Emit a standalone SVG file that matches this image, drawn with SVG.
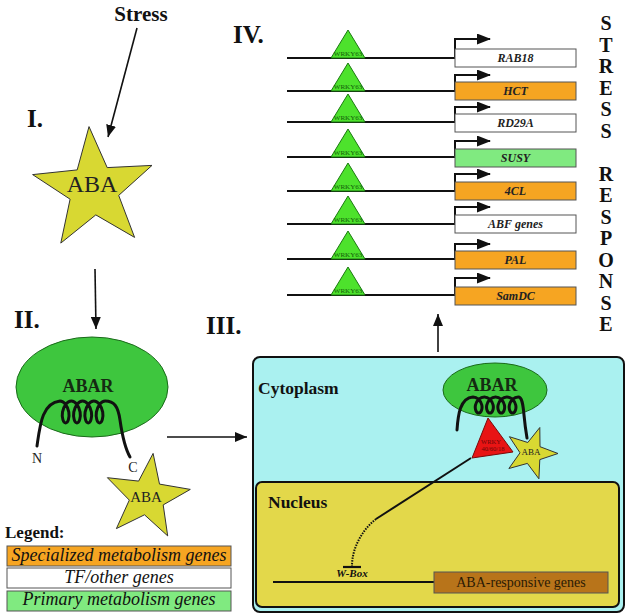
<svg xmlns="http://www.w3.org/2000/svg" width="630" height="616" viewBox="0 0 630 616">
<defs>
<style>
text{font-family:"Liberation Serif","Times New Roman",serif;}
.b{font-weight:bold;}
.num{font-weight:bold;font-size:25px;fill:#111;}
.gene{fill:#fff;stroke:#555;stroke-width:1;}
.spec{fill:#f6a522;}
.prim{fill:#80ea80;}
.gl{font-weight:bold;font-style:italic;font-size:12px;fill:#222;text-anchor:middle;}
.dna{stroke:#111;stroke-width:2;fill:none;}
.tri{fill:#4de22c;stroke:#1a7a10;stroke-width:1;}
.wl{font-size:7px;fill:#125a0a;text-anchor:middle;}
.star{fill:#d8d832;stroke:#333;stroke-width:1;}
.coil{fill:none;stroke:#111;stroke-width:3;stroke-linecap:round;stroke-linejoin:round;}
.abar{fill:#3ec63e;stroke:#1a6a1a;stroke-width:1;}
.sr{font-weight:bold;font-size:20px;fill:#111;text-anchor:middle;}
.leg{font-style:italic;font-size:18px;fill:#111;text-anchor:middle;}
.arr{stroke:#111;stroke-width:1.6;fill:none;}
</style>
<marker id="ah" markerUnits="userSpaceOnUse" markerWidth="12" markerHeight="10" refX="12" refY="5" orient="auto">
<path d="M0,0 L12,5 L0,10 z" fill="#111"/>
</marker>
<marker id="gh" markerUnits="userSpaceOnUse" markerWidth="14" markerHeight="11" refX="13" refY="5.5" orient="auto">
<path d="M0,0 L14,5.5 L0,11 z" fill="#111"/>
</marker>
</defs>
<rect width="630" height="616" fill="#fff"/>

<g id="stress-label"><text x="141" y="21" class="b" font-size="21" text-anchor="middle" fill="#111">Stress</text></g>
<g id="labels">
<text x="27" y="127" class="num" font-size="22">I.</text>
<text x="14" y="328" class="num">II.</text>
<text x="206" y="334" class="num">III.</text>
<text x="233" y="43" class="num">IV.</text>
</g>

<g id="aba-star-1">
<polygon class="star" points="89.0,126.6 107.2,167.6 152.0,165.4 118.7,195.4 134.6,237.4 95.8,214.9 60.8,243.1 70.1,199.2 32.6,174.6 77.2,169.9"/>
<text x="92" y="192" font-size="24" text-anchor="middle" fill="#222">ABA</text>
</g>

<g id="abar-2">
<ellipse class="abar" cx="92" cy="387" rx="76" ry="50"/>
<text x="88" y="392" class="b" font-size="18" text-anchor="middle" fill="#152a12">ABAR</text>
<path class="coil" d="M37,446 C40,425 42,403 60,401 c 4.08,0 7.86,5.24 8.8,11 c 0.94,5.76 -0.95,11 -3.15,11 c -2.2,0 -4.09,-5.24 -3.15,-11 c 0.94,-5.76 4.72,-11 8.8,-11 c 4.08,0 7.86,5.24 8.8,11 c 0.94,5.76 -0.95,11 -3.15,11 c -2.2,0 -4.09,-5.24 -3.15,-11 c 0.94,-5.76 4.72,-11 8.8,-11 c 4.08,0 7.86,5.24 8.8,11 c 0.94,5.76 -0.95,11 -3.15,11 c -2.2,0 -4.09,-5.24 -3.15,-11 c 0.94,-5.76 4.72,-11 8.8,-11 c 4.08,0 7.86,5.24 8.8,11 c 0.94,5.76 -0.95,11 -3.15,11 c -2.2,0 -4.09,-5.24 -3.15,-11 c 0.94,-5.76 4.72,-11 8.8,-11 C114,401 118,406 120,420 S126,450 130,457"/>
<text x="37" y="463" font-size="14" text-anchor="middle" fill="#222">N</text>
<text x="133" y="472" font-size="14" text-anchor="middle" fill="#222">C</text>
</g>

<g id="aba-star-2">
<polygon class="star" points="153.1,453.4 159.5,484.1 190.3,489.4 163.2,504.9 167.7,535.9 144.5,514.8 116.4,528.6 129.3,500.1 107.4,477.7 138.6,481.1"/>
<text x="146" y="502" font-size="15" text-anchor="middle" fill="#222">ABA</text>
</g>

<g id="legend">
<text x="5" y="538" class="b" font-size="17" fill="#111">Legend:</text>
<rect x="7" y="546" width="224" height="20" class="gene spec"/>
<text x="119" y="561" class="leg">Specialized metabolism genes</text>
<rect x="7" y="568" width="224" height="20" class="gene"/>
<text x="119" y="583" class="leg">TF/other genes</text>
<rect x="7" y="591" width="224" height="20" class="gene prim"/>
<text x="119" y="605" class="leg">Primary metabolism genes</text>
</g>

<g id="cell">
<rect id="cytoplasm" x="253" y="357" width="371" height="255" rx="7" fill="#aaf1f0" stroke="#111" stroke-width="2"/>
<text x="258" y="394" class="b" font-size="17.5" fill="#111">Cytoplasm</text>
<rect id="nucleus" x="256" y="482" width="363" height="125" rx="6" fill="#e3d84a" stroke="#111" stroke-width="2"/>
<text x="268" y="508" class="b" font-size="17.5" fill="#111">Nucleus</text>
</g>

<g id="abar-3">
<ellipse class="abar" cx="495" cy="390" rx="52" ry="27"/>
<text x="492" y="391" class="b" font-size="18" text-anchor="middle" fill="#152a12">ABAR</text>
</g>
<g id="aba-star-3">
<polygon class="star" points="539.8,427.5 540.0,446.7 558.0,453.5 539.8,459.6 538.9,478.8 527.4,463.4 508.9,468.5 520.0,452.8 509.4,436.7 527.8,442.5"/>
<text x="531" y="455" font-size="9" text-anchor="middle" fill="#222">ABA</text>
</g>
<g id="abar-3-coil">
<path class="coil" d="M457,430 C458,415 460,398 473,397 c 4.08,0 7.86,3.81 8.8,8 c 0.94,4.19 -0.95,8 -3.15,8 c -2.2,0 -4.09,-3.81 -3.15,-8 c 0.94,-4.19 4.72,-8 8.8,-8 c 4.08,0 7.86,3.81 8.8,8 c 0.94,4.19 -0.95,8 -3.15,8 c -2.2,0 -4.09,-3.81 -3.15,-8 c 0.94,-4.19 4.72,-8 8.8,-8 c 4.08,0 7.86,3.81 8.8,8 c 0.94,4.19 -0.95,8 -3.15,8 c -2.2,0 -4.09,-3.81 -3.15,-8 c 0.94,-4.19 4.72,-8 8.8,-8 c 4.08,0 7.86,3.81 8.8,8 c 0.94,4.19 -0.95,8 -3.15,8 c -2.2,0 -4.09,-3.81 -3.15,-8 c 0.94,-4.19 4.72,-8 8.8,-8 C522,397 523,404 524,415 S526,432 527,438"/>
</g>
<g id="wrky-red">
<polygon points="488,418 472,458 513,452" fill="#e81414" stroke="#7a0a0a" stroke-width="1"/>
<text x="491" y="444" font-size="6.5" text-anchor="middle" fill="#6a0808">WRKY</text>
<text x="493" y="451" font-size="6.5" text-anchor="middle" fill="#6a0808">40/60/18</text>
</g>

<g id="aba-genes">
<line x1="273" y1="582" x2="434" y2="582" class="dna"/>
<rect x="434" y="572" width="174" height="21" fill="#b8741a" stroke="#555" stroke-width="1"/>
<text x="521" y="587" font-size="14" text-anchor="middle" fill="#2a1a05">ABA-responsive genes</text>
<text x="352" y="577" font-size="11" class="b" font-style="italic" text-anchor="middle" fill="#111">W-Box</text>
</g>

<g id="genes">
<g id="row-rab18">
<line x1="287" y1="58" x2="455" y2="58" class="dna"/>
<polygon class="tri" points="348,30 331,58 365,58"/><text x="348" y="56" class="wl">WRKY63</text>
<path class="dna" d="M455,58 V39 H490" marker-end="url(#gh)"/>
<rect x="455" y="49" width="121" height="18" class="gene"/><text x="515.5" y="62" class="gl">RAB18</text>
</g>
<g id="row-hct">
<line x1="287" y1="91" x2="455" y2="91" class="dna"/>
<polygon class="tri" points="348,63 331,91 365,91"/><text x="348" y="89" class="wl">WRKY63</text>
<path class="dna" d="M455,91 V75 H490" marker-end="url(#gh)"/>
<rect x="455" y="82" width="121" height="18" class="gene spec"/><text x="515.5" y="95" class="gl">HCT</text>
</g>
<g id="row-rd29a">
<line x1="287" y1="122" x2="455" y2="122" class="dna"/>
<polygon class="tri" points="348,94 331,122 365,122"/><text x="348" y="120" class="wl">WRKY63</text>
<path class="dna" d="M455,122 V107 H490" marker-end="url(#gh)"/>
<rect x="455" y="114" width="121" height="18" class="gene"/><text x="515.5" y="127" class="gl">RD29A</text>
</g>
<g id="row-susy">
<line x1="287" y1="157" x2="455" y2="157" class="dna"/>
<polygon class="tri" points="348,129 331,157 365,157"/><text x="348" y="155" class="wl">WRKY63</text>
<path class="dna" d="M455,157 V141 H490" marker-end="url(#gh)"/>
<rect x="455" y="149" width="121" height="18" class="gene prim"/><text x="515.5" y="162" class="gl">SUSY</text>
</g>
<g id="row-4cl">
<line x1="287" y1="191" x2="455" y2="191" class="dna"/>
<polygon class="tri" points="348,163 331,191 365,191"/><text x="348" y="189" class="wl">WRKY63</text>
<path class="dna" d="M455,191 V174 H490" marker-end="url(#gh)"/>
<rect x="455" y="182" width="121" height="18" class="gene spec"/><text x="515.5" y="195" class="gl">4CL</text>
</g>
<g id="row-abf">
<line x1="287" y1="224" x2="455" y2="224" class="dna"/>
<polygon class="tri" points="348,196 331,224 365,224"/><text x="348" y="222" class="wl">WRKY63</text>
<path class="dna" d="M455,224 V207 H490" marker-end="url(#gh)"/>
<rect x="455" y="215" width="121" height="18" class="gene"/><text x="515.5" y="228" class="gl">ABF genes</text>
</g>
<g id="row-pal">
<line x1="287" y1="259" x2="455" y2="259" class="dna"/>
<polygon class="tri" points="348,231 331,259 365,259"/><text x="348" y="257" class="wl">WRKY63</text>
<path class="dna" d="M455,259 V244 H490" marker-end="url(#gh)"/>
<rect x="455" y="251" width="121" height="18" class="gene spec"/><text x="515.5" y="264" class="gl">PAL</text>
</g>
<g id="row-samdc">
<line x1="287" y1="295" x2="455" y2="295" class="dna"/>
<polygon class="tri" points="348,267 331,295 365,295"/><text x="348" y="293" class="wl">WRKY63</text>
<path class="dna" d="M455,295 V278 H490" marker-end="url(#gh)"/>
<rect x="455" y="287" width="121" height="18" class="gene spec"/><text x="515.5" y="300" class="gl">SamDC</text>
</g>
</g>

<g id="stress-response">
<text x="606" y="30" class="sr">S</text>
<text x="606" y="51.5" class="sr">T</text>
<text x="606" y="73" class="sr">R</text>
<text x="606" y="94.5" class="sr">E</text>
<text x="606" y="116" class="sr">S</text>
<text x="606" y="137.5" class="sr">S</text>
<text x="606" y="180.5" class="sr">R</text>
<text x="606" y="202" class="sr">E</text>
<text x="606" y="223.5" class="sr">S</text>
<text x="606" y="245" class="sr">P</text>
<text x="606" y="266.5" class="sr">O</text>
<text x="606" y="288" class="sr">N</text>
<text x="606" y="309.5" class="sr">S</text>
<text x="606" y="331" class="sr">E</text>
</g>

<g id="connectors">
<line x1="137" y1="28" x2="108" y2="137" class="arr" marker-end="url(#ah)"/>
<line x1="95" y1="269" x2="96" y2="329" class="arr" marker-end="url(#ah)"/>
<line x1="167" y1="437" x2="247" y2="437" class="arr" marker-end="url(#ah)"/>
<line x1="438" y1="352" x2="438" y2="314" class="arr" marker-end="url(#ah)"/>
<line x1="471" y1="458" x2="376" y2="519" stroke="#111" stroke-width="2"/>
<path d="M376,519 C362,530 352,548 352,566" fill="none" stroke="#111" stroke-width="2" stroke-dasharray="1.5,1.2"/>
<line x1="343" y1="567" x2="361" y2="567" stroke="#111" stroke-width="2.2"/>
</g>
</svg>
